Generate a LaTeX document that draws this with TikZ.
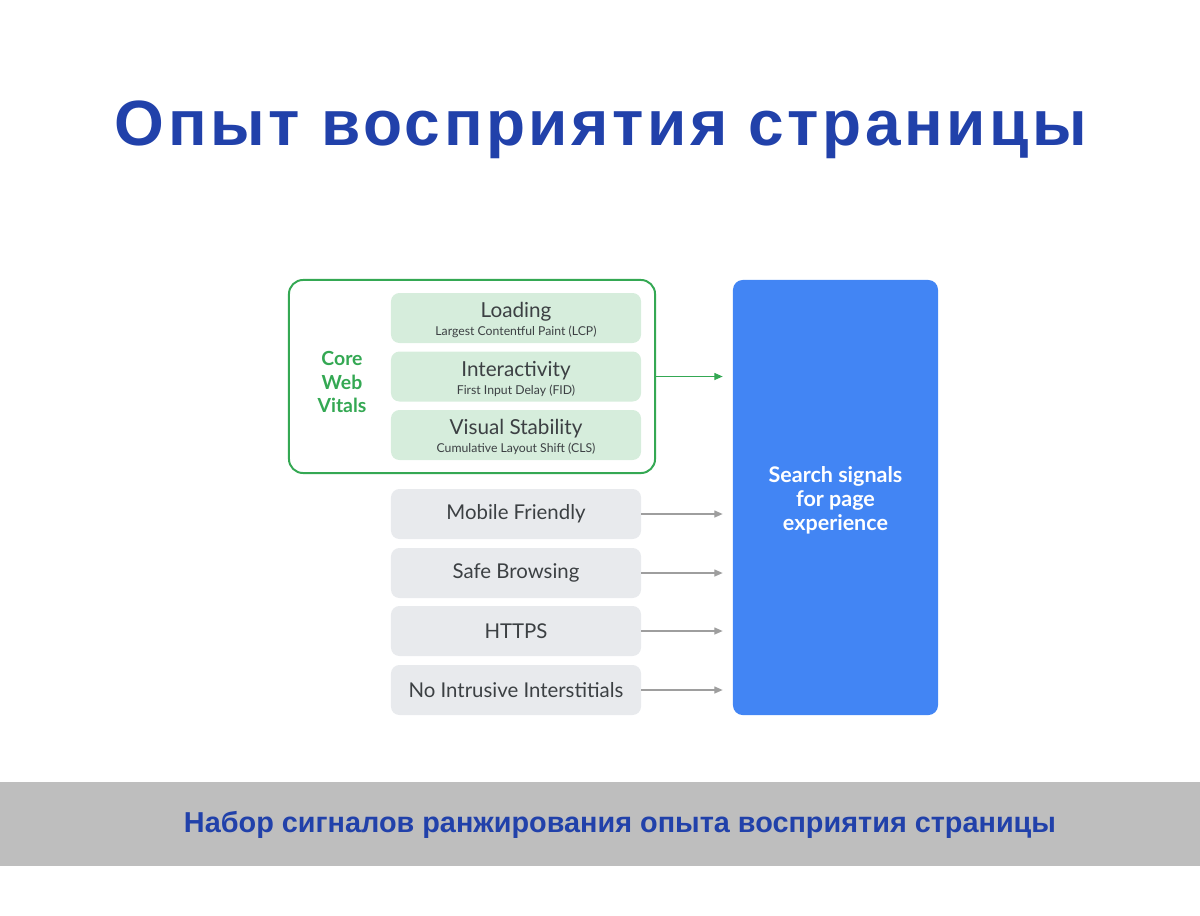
\documentclass[tikz,border=0pt]{standalone}
\usepackage{fontspec}
\setmainfont{Liberation Sans}
\newfontfamily\gsans{Lato}
\usepackage{tikz}
\usetikzlibrary{shapes,arrows,arrows.meta,positioning,calc}
\usepackage{xcolor}
\definecolor{googleblue}{RGB}{66,133,244}
\definecolor{googlegreen}{RGB}{52,168,83}
\definecolor{leafgreen}{RGB}{214,237,220}
\definecolor{boxgray}{RGB}{232,234,237}
\definecolor{darktext}{RGB}{60,64,67}
\definecolor{arrowgray}{RGB}{158,158,158}
\definecolor{titleblue}{RGB}{33,65,170}
\definecolor{bandgray}{RGB}{190,190,190}
\newcommand{\vitaltext}[2]{\raisebox{-1.5pt}[\height][\depth]{\parbox{6cm}{\centering{\fontsize{14.7}{17}\selectfont #1}\\[1pt]{\fontsize{8.7}{10}\selectfont #2}}}}
\tikzset{
    vital/.style={rectangle, rounded corners=6pt, fill=leafgreen, minimum width=6.25cm, minimum height=1.25cm, inner sep=0pt, align=center, text=darktext, font=\gsans},
    signal/.style={rectangle, rounded corners=6pt, fill=boxgray, minimum width=6.25cm, minimum height=1.25cm, align=center, text=darktext, font=\gsans\fontsize{14.5}{17}\selectfont},
    cwvframe/.style={rectangle, rounded corners=10pt, draw=googlegreen, line width=1.4pt, minimum width=9.15cm, minimum height=4.825cm},
    feed/.style={-{Triangle[length=6pt,width=5pt]}, arrowgray, line width=1pt, shorten >=0.25cm},
    feedG/.style={-{Triangle[length=6pt,width=5pt]}, googlegreen, line width=1pt, shorten >=0.25cm},
}

\begin{document}
\begin{tikzpicture}[x=0.025cm, y=-0.025cm]
    \useasboundingbox (0,0) rectangle (1200,915);

    % Title
    \node[anchor=base, text=titleblue, font=\bfseries\fontsize{45.5}{54}\selectfont\addfontfeature{LetterSpace=5.5}] (title) at (601,145) {Опыт восприятия страницы};

    % Core Web Vitals group
    \node[cwvframe] (cwv) at (472,376.5) {};
    \node[vital] (load) at (516,318) {\vitaltext{Loading}{Largest Contentful Paint (LCP)}};
    \node[vital] (inter) at (516,376.5) {\vitaltext{Interactivity}{First Input Delay (FID)}};
    \node[vital] (stab) at (516,435) {\vitaltext{Visual Stability}{Cumulative Layout Shift (CLS)}};
    \node[text=googlegreen, align=center, font=\gsans\bfseries\fontsize{13.8}{17}\selectfont] (cwvlabel) at (342,382) {Core\\Web\\Vitals};

    % Other signals
    \node[signal] (mobile) at (516,514) {Mobile Friendly};
    \node[signal] (safe) at (516,573) {Safe Browsing};
    \node[signal] (https) at (516,631) {HTTPS};
    \node[signal] (inter2) at (516,690) {No Intrusive Interstitials};

    % Target
    \node[rectangle, rounded corners=7pt, fill=googleblue, minimum width=5.125cm, minimum height=10.875cm, inner sep=0pt, text=white, font=\gsans\bfseries\fontsize{15.3}{17}\selectfont] (sig) at (835.5,497.5) {\raisebox{-2.2pt}[\height][\depth]{\parbox{4.5cm}{\centering Search signals\\for page\\experience}}};

    % Arrows
    \draw[feedG] (cwv.east) -- (cwv.east -| sig.west);
    \foreach \s in {mobile,safe,https,inter2}
        \draw[feed] (\s.east) -- (\s.east -| sig.west);

    % Caption band
    \fill[bandgray] (0,782) rectangle (1200,866);
    \node[anchor=base, text=titleblue, font=\bfseries\fontsize{20.5}{25}\selectfont] (caption) at (620,832) {Набор сигналов ранжирования опыта восприятия страницы};
\end{tikzpicture}
\end{document}
